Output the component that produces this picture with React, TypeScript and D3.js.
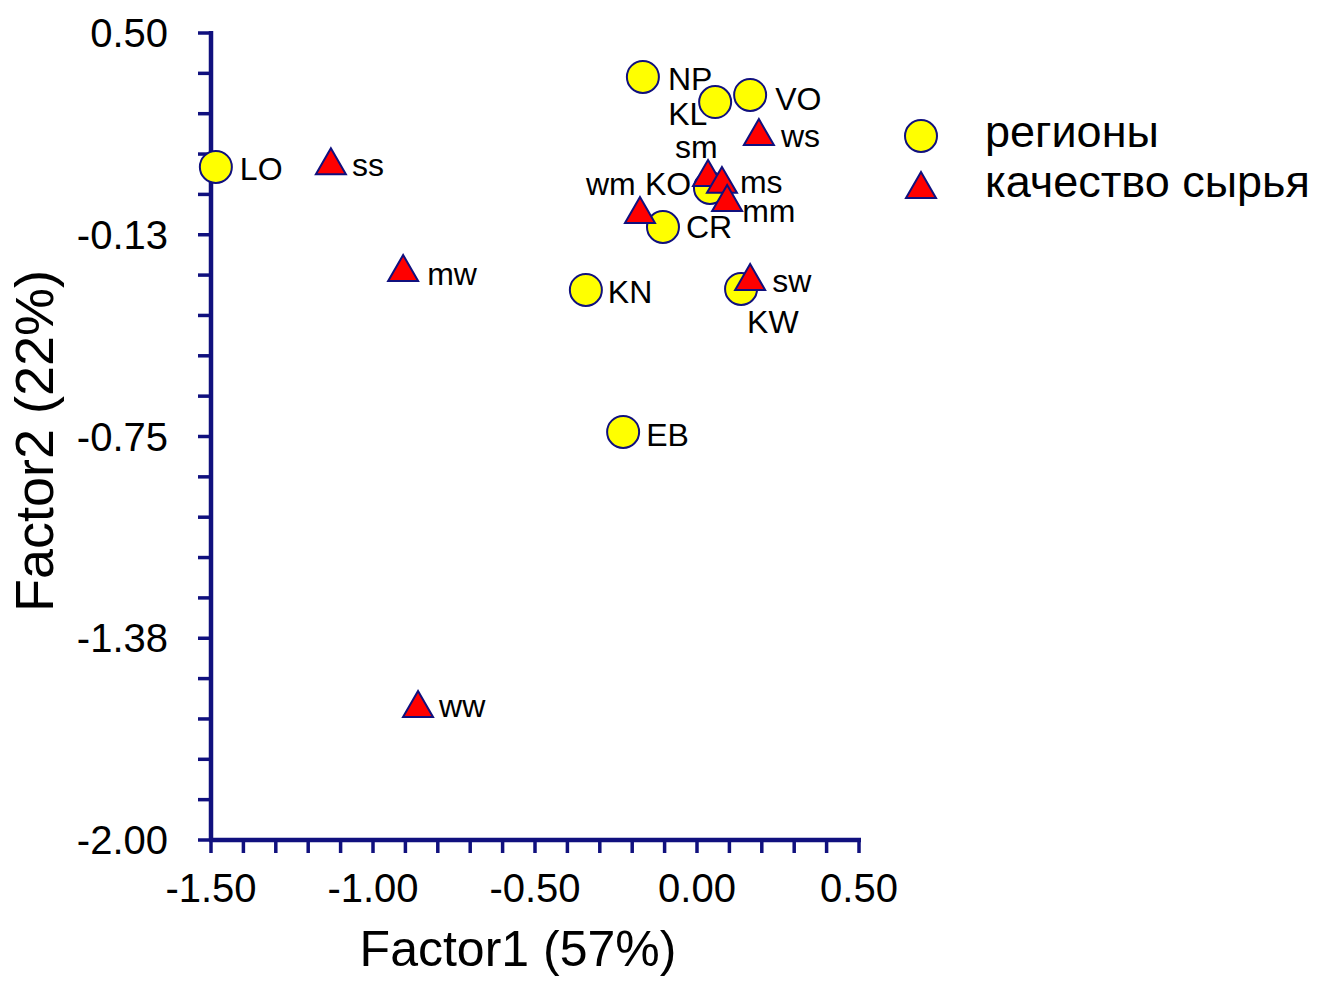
import React, { useEffect, useRef } from 'react';
import * as d3 from 'd3';

// regions (circles)
const regionNames = ['LO', 'NP', 'KL', 'VO', 'KO', 'CR', 'KN', 'KW', 'EB'];
const regionF1 = [-1.485, -0.167, 0.056, 0.164, 0.04, -0.105, -0.343, 0.136, -0.228];
const regionF2 = [0.085, 0.364, 0.286, 0.308, 0.02, -0.101, -0.296, -0.293, -0.736];

// raw material quality (triangles)
const qualityNames = ['ss', 'mw', 'ww', 'ws', 'sm', 'ms', 'mm', 'wm', 'sw'];
const qualityF1 = [-1.13, -0.907, -0.861, 0.191, 0.034, 0.077, 0.093, -0.176, 0.164];
const qualityF2 = [0.103, -0.228, -1.579, 0.193, 0.066, 0.045, -0.011, -0.048, -0.256];

const xTicks = [-1.5, -1.0, -0.5, 0, 0.5];
const yTicks = [0.5, -0.125, -0.75, -1.375, -2.0];
const yTickLabels = ['0.50', '-0.13', '-0.75', '-1.38', '-2.00'];

const legendLabels = ['регионы', 'качество сырья'];
const xTitle = 'Factor1 (57%)';
const yTitle = 'Factor2 (22%)';

// label offsets from marker centre (dx, dy to baseline)
const labelOffset: Record<string, [number, number]> = {
  LO: [24, 13], NP: [25, 13], KL: [-47, 23], VO: [25, 15], KO: [-65, 7],
  CR: [23, 11], KN: [22, 13], KW: [6, 44], EB: [23, 14],
  ss: [21, 15], mw: [24, 17], ww: [21, 13], ws: [22, 15], sm: [-33, -15],
  ms: [18, 13], mm: [15, 24], wm: [-54, -15], sw: [22, 15],
};

const W = 1321;
const H = 981;
const navy = '#10107e';
const font = '"Liberation Sans", Arial, sans-serif';

const triPath = (s: number) => {
  const h = s * Math.sqrt(3) / 2;
  return `M0,${-h / 2}L${s / 2},${h / 2}L${-s / 2},${h / 2}Z`;
};

export default function App() {
  const svgRef = useRef<SVGSVGElement>(null);

  useEffect(() => {
    if (!svgRef.current) return;
    const svg = d3.select(svgRef.current);
    svg.selectAll('*').remove();

    const x = d3.scaleLinear().domain([-1.5, 0.5]).range([211, 859]);
    const y = d3.scaleLinear().domain([-2, 0.5]).range([840, 33]);

    // y axis
    const yMinor = d3.range(21).map(i => 0.5 - i * 0.125);
    svg.append('line')
      .attr('x1', x(-1.5)).attr('x2', x(-1.5))
      .attr('y1', y(0.5) - 2).attr('y2', y(-2))
      .attr('stroke', navy).attr('stroke-width', 4.5);
    svg.append('g').selectAll('line').data(yMinor).enter().append('line')
      .attr('x1', x(-1.5) - 13).attr('x2', x(-1.5))
      .attr('y1', d => y(d)).attr('y2', d => y(d))
      .attr('stroke', navy).attr('stroke-width', 3.5);
    svg.append('g').selectAll('text').data(yTicks).enter().append('text')
      .attr('x', 168).attr('y', d => y(d) + 14)
      .attr('text-anchor', 'end')
      .attr('font-family', font).attr('font-size', 40)
      .text((d, i) => yTickLabels[i]);

    // x axis
    const xMinor = d3.range(21).map(i => -1.5 + i * 0.1);
    svg.append('line')
      .attr('x1', x(-1.5) - 2).attr('x2', x(0.5) + 2)
      .attr('y1', y(-2)).attr('y2', y(-2))
      .attr('stroke', navy).attr('stroke-width', 4.5);
    svg.append('g').selectAll('line').data(xMinor).enter().append('line')
      .attr('x1', d => x(d)).attr('x2', d => x(d))
      .attr('y1', y(-2)).attr('y2', y(-2) + 13)
      .attr('stroke', navy).attr('stroke-width', 3.5);
    svg.append('g').selectAll('text').data(xTicks).enter().append('text')
      .attr('x', d => x(d)).attr('y', 902)
      .attr('text-anchor', 'middle')
      .attr('font-family', font).attr('font-size', 40)
      .text(d => d.toFixed(2));

    // titles
    svg.append('text')
      .attr('x', 518).attr('y', 966)
      .attr('text-anchor', 'middle')
      .attr('font-family', font).attr('font-size', 50)
      .text(xTitle);
    svg.append('text')
      .attr('transform', 'translate(53,441) rotate(-90)')
      .attr('text-anchor', 'middle')
      .attr('font-family', font).attr('font-size', 54)
      .text(yTitle);

    const regions = regionNames.map((n, i) => ({ n, fx: regionF1[i], fy: regionF2[i] }));
    const quality = qualityNames.map((n, i) => ({ n, fx: qualityF1[i], fy: qualityF2[i] }));

    // markers
    svg.append('g').selectAll('circle').data(regions).enter().append('circle')
      .attr('cx', d => x(d.fx)).attr('cy', d => y(d.fy)).attr('r', 16)
      .attr('fill', '#ffff00').attr('stroke', navy).attr('stroke-width', 2);
    svg.append('g').selectAll('path').data(quality).enter().append('path')
      .attr('d', triPath(30))
      .attr('transform', d => `translate(${x(d.fx)},${y(d.fy)})`)
      .attr('fill', '#ff0000').attr('stroke', navy).attr('stroke-width', 2);

    // point labels
    svg.append('g').selectAll('text').data([...regions, ...quality]).enter().append('text')
      .attr('x', d => x(d.fx) + labelOffset[d.n][0])
      .attr('y', d => y(d.fy) + labelOffset[d.n][1])
      .attr('font-family', font).attr('font-size', 32)
      .text(d => d.n);

    // legend
    const lg = svg.append('g');
    lg.append('circle').attr('cx', 921).attr('cy', 136).attr('r', 16)
      .attr('fill', '#ffff00').attr('stroke', navy).attr('stroke-width', 2);
    lg.append('path').attr('d', triPath(30)).attr('transform', 'translate(921,185)')
      .attr('fill', '#ff0000').attr('stroke', navy).attr('stroke-width', 2);
    lg.selectAll('text.l').data(legendLabels).enter().append('text')
      .attr('x', 985).attr('y', (d, i) => 147 + i * 50)
      .attr('font-family', font).attr('font-size', 45)
      .text(d => d);
  }, []);

  return (
    <svg
      ref={svgRef}
      width={W}
      height={H}
      viewBox={`0 0 ${W} ${H}`}
      style={{ position: 'absolute', left: 0, top: 0, background: '#fff' }}
    />
  );
}
